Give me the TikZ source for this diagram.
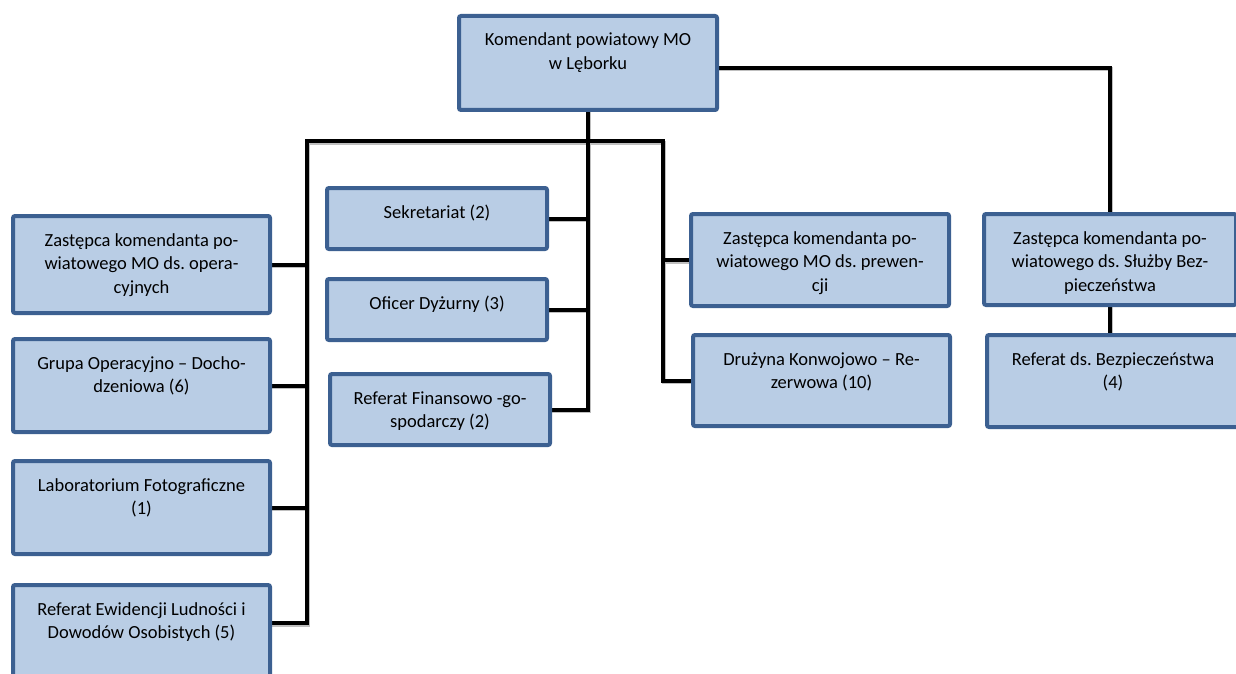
\documentclass[tikz,border=0pt]{standalone}
\usepackage{fontspec}
\setmainfont{Carlito}
\usetikzlibrary{calc,backgrounds}
\frenchspacing
\definecolor{boxfill}{RGB}{185,205,229}
\definecolor{boxborder}{RGB}{60,96,145}
\newcommand\bxt[3]{\parbox[c][#2pt][t]{#1pt}{\centering\frenchspacing\fontsize{18.5}{23.5}\selectfont\rule{0pt}{30pt}#3}}
\newcommand\orgconns[1]{%
\draw[#1] (K.south) -- (K.south |- fin.east) -- (fin.east);
\draw[#1] (sek.east) -- (sek.east -| K.south);
\draw[#1] (ofi.east) -- (ofi.east -| K.south);
\draw[#1] ($(ewid.north east)+(0,38)$) -| (busL) -- (busR) |- (druz.west);
\draw[#1] (op.east) -- (op.east -| busL);
\draw[#1] (grupa.east) -- (grupa.east -| busL);
\draw[#1] (lab.east) -- (lab.east -| busL);
\draw[#1] (prew.west) -- (prew.west -| busR);
\draw[#1] ($(K.east)+(0,5)$) -| (sb.north);
\draw[#1] (sb.south) -- (sb.south |- refsb.north);
}
\tikzset{
  orgbox/.style={draw=boxborder, fill=boxfill, line width=4pt, rounded corners=2pt, inner sep=0pt, outer sep=0pt, text=black},
  conn/.style={line width=4pt, black, line join=miter},
  connshadow/.style={line width=4pt, black!25, line join=miter, transform canvas={shift={(1pt,-1.5pt)}}},
}
\begin{document}
\begin{tikzpicture}[x=1pt,y=-1pt]
\useasboundingbox (0,0) rectangle (1236,674);
% boxes
\node[orgbox, minimum width=258pt, minimum height=94pt] (K) at (588,63)
  {\bxt{258}{94}{Komendant powiatowy MO\\ w Lęborku}};
\node[orgbox, minimum width=257pt, minimum height=97pt] (op) at (141.5,264.5)
  {\bxt{257}{97}{Zastępca komendanta po-\\ wiatowego MO ds. opera-\\ cyjnych}};
\node[orgbox, minimum width=257pt, minimum height=93pt] (grupa) at (141.5,385.5)
  {\bxt{257}{93}{Grupa Operacyjno – Docho-\\ dzeniowa (6)}};
\node[orgbox, minimum width=257pt, minimum height=93pt] (lab) at (141.5,507.5)
  {\bxt{257}{93}{Laboratorium Fotograficzne\\ (1)}};
\node[orgbox, minimum width=257pt, minimum height=103pt] (ewid) at (141.5,636.5)
  {\bxt{257}{103}{Referat Ewidencji Ludności i\\ Dowodów Osobistych (5)}};
\node[orgbox, minimum width=220pt, minimum height=61pt] (sek) at (437,218.5)
  {\bxt{220}{61}{Sekretariat (2)}};
\node[orgbox, minimum width=220pt, minimum height=61pt] (ofi) at (437,309.5)
  {\bxt{220}{61}{Oficer Dyżurny (3)}};
\node[orgbox, minimum width=220pt, minimum height=71pt] (fin) at (440,409.5)
  {\bxt{220}{71}{Referat Finansowo -go-\\ spodarczy (2)}};
\node[orgbox, minimum width=258pt, minimum height=92pt] (prew) at (820,260)
  {\bxt{258}{92}{Zastępca komendanta po-\\ wiatowego MO ds. prewen-\\ cji}};
\node[orgbox, minimum width=257pt, minimum height=91pt] (druz) at (821.5,380.5)
  {\bxt{257}{91}{Drużyna Konwojowo – Re-\\ zerwowa (10)}};
\node[orgbox, minimum width=252pt, minimum height=91pt] (sb) at (1110,259.5)
  {\bxt{252}{91}{Zastępca komendanta po-\\ wiatowego ds. Służby Bez-\\ pieczeństwa}};
\node[orgbox, minimum width=252pt, minimum height=92pt] (refsb) at (1113,381)
  {\bxt{252}{92}{Referat ds. Bezpieczeństwa\\ (4)}};
% bus coordinates
\coordinate (busL) at (307,141);
\coordinate (busR) at (663,141);
% connectors
\begin{scope}[on background layer]
\fill[white] (0,0) rectangle (1236,674);
\orgconns{connshadow}
\orgconns{conn}
\end{scope}
\end{tikzpicture}
\end{document}
